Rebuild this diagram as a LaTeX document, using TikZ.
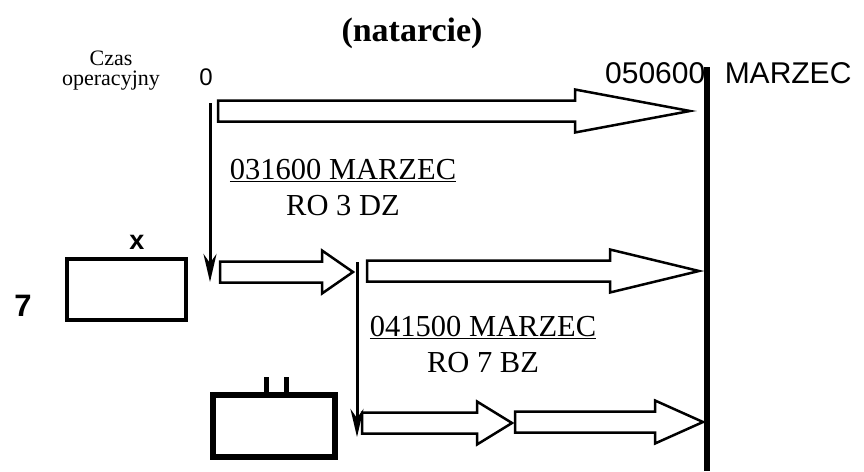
\documentclass[tikz,border=0pt]{standalone}
\usepackage{fontspec}
\setmainfont{Liberation Serif}
\setsansfont{Liberation Sans}
\usetikzlibrary{arrows.meta,calc}
\tikzset{
  opBlock/.style={
    draw=black, fill=white, line width=2.5pt, line join=miter,
    to path={let \p1=(\tikztostart), \p2=(\tikztotarget) in
      (\x1,\y2+10.5pt) -- (\x2-#1pt,\y2+10.5pt) -- (\x2-#1pt,\y2+21.5pt)
      -- (\tikztotarget) -- (\x2-#1pt,\y2-21.5pt) -- (\x2-#1pt,\y2-10.5pt)
      -- (\x1,\y2-10.5pt) -- cycle}
  },
  opLine/.style={-{Stealth[length=28pt,width=13pt]}, line width=3pt, draw=black},
  opDeadline/.style={line width=6pt, draw=black},
  opBox/.style={draw=black, line width=#1, inner sep=0pt},
  opDate/.style={font=\fontsize{30.5}{36}\selectfont, align=center, inner sep=0pt},
  opSans/.style={font=\sffamily\fontsize{#1}{#1}\selectfont, inner sep=0pt},
  opSansBold/.style={font=\sffamily\bfseries\fontsize{#1}{#1}\selectfont, inner sep=0pt}
}

\begin{document}
\begin{tikzpicture}[x=1pt, y=-1pt]
  \useasboundingbox (0,0) rectangle (864,471);

  % title and time axis labels
  \node[font=\bfseries\fontsize{34}{34}\selectfont, inner sep=0pt] (title) at (412,33) {(natarcie)};
  \node[font=\fontsize{22}{20}\selectfont, align=center, inner sep=0pt] (czas) at (111,71) {Czas\\operacyjny};
  \node[opSans=24] (zero) at (206,77) {0};
  \node[opSans=30, anchor=base west] (deadLabel) at (605,83) {050600\hspace{0.65em}MARZEC};

  % units
  \node[opBox=4pt, minimum width=119pt, minimum height=61pt] (boxSeven) at (126.5,289.5) {};
  \node[opSansBold=27] (labX) at (137,242) {x};
  \node[opSansBold=31] (labSeven) at (23,306) {7};
  \node[opBox=6pt, minimum width=122pt, minimum height=62pt] (boxTwo) at (274,426) {};
  \draw[line width=5pt] ([xshift=-8pt]boxTwo.north) -- ++(0,-15);
  \draw[line width=5pt] ([xshift=12pt]boxTwo.north) -- ++(0,-15);

  % phase labels
  \node[opDate] (phaseOne) at (343,188) {\underline{031600 MARZEC}\\RO 3 DZ};
  \node[opDate] (phaseTwo) at (483,345) {\underline{041500 MARZEC}\\RO 7 BZ};

  % block arrows
  \coordinate (topTail) at (218,111);
  \coordinate (topTip) at (690,111);
  \coordinate (midTail) at (220,272);
  \coordinate (midTip) at (353,272);
  \coordinate (midLongTail) at (367,271);
  \coordinate (midLongTip) at (699,271);
  \coordinate (lowTail) at (362,423);
  \coordinate (lowTip) at (512,423);
  \coordinate (lowLongTail) at (515,422);
  \coordinate (lowLongTip) at (703,422);
  \draw[opBlock=115] (topTail) to (topTip);
  \draw[opBlock=31] (midTail) to (midTip);
  \draw[opBlock=89] (midLongTail) to (midLongTip);
  \draw[opBlock=35] (lowTail) to (lowTip);
  \draw[opBlock=48] (lowLongTail) to (lowLongTip);

  % time lines
  \coordinate (zeroStart) at (210,103);
  \coordinate (zeroEnd) at (210,282);
  \coordinate (splitStart) at (357,262);
  \coordinate (splitEnd) at (357,437);
  \draw[opLine] (zeroStart) -- (zeroEnd);
  \draw[opLine] (splitStart) -- (splitEnd);

  \coordinate (deadTop) at (707,67);
  \coordinate (deadBottom) at (707,471);
  \draw[opDeadline] (deadTop) -- (deadBottom);
\end{tikzpicture}
\end{document}
